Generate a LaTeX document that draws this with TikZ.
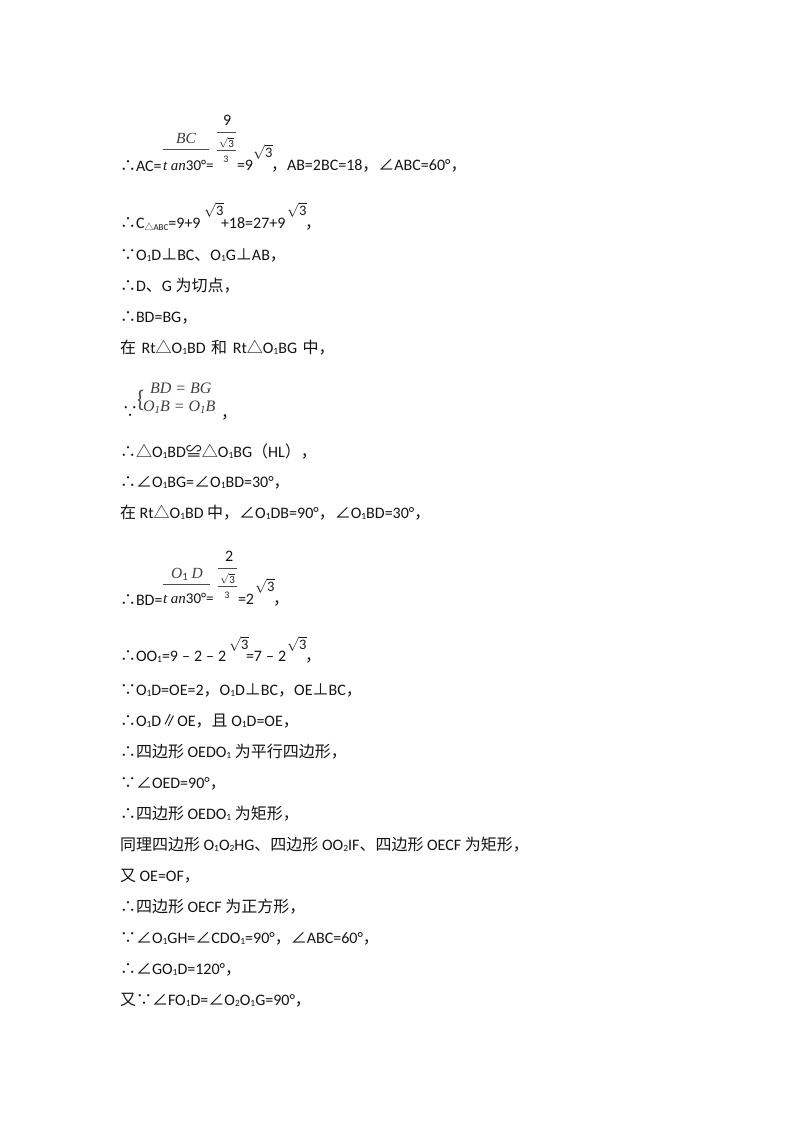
\documentclass[tikz,border=0pt]{standalone}
\usepackage{fontspec}
\setmainfont{Carlito}
\newfontfamily\cjk[Scale=1.0]{Noto Sans CJK SC}
\newfontfamily\myserif{Liberation Serif}
\newcommand{\cn}[1]{{\cjk #1}}
\newcommand{\sbs}[1]{\raisebox{-1.8pt}{\fontsize{9.5}{9.5}\selectfont #1}}
\newcommand{\mi}[1]{{\myserif\itshape #1}}
\tikzset{
  txt/.style={anchor=base west,inner sep=0pt,outer sep=0pt,font=\fontsize{16}{18}\selectfont,text=black!92},
  tanf/.style={anchor=base west,inner sep=0pt,outer sep=0pt,font=\fontsize{15}{18}\selectfont,text=black!92},
  sysf/.style={anchor=base west,inner sep=0pt,outer sep=0pt,font=\fontsize{16}{16}\selectfont\myserif\itshape,text=black!75},
  fmi/.style={anchor=base,inner sep=0pt,outer sep=0pt,font=\fontsize{15.5}{16}\selectfont,text=black!75},
  rtin/.style={anchor=base west,inner sep=0pt,font=\fontsize{11}{12}\selectfont,text=black!85},
  rtout/.style={anchor=base west,inner sep=0pt,font=\fontsize{14.5}{18}\selectfont,text=black!90},
  three/.style={anchor=base,inner sep=0pt,font=\fontsize{10}{11}\selectfont,text=black!85},
  bar/.style={line width=0.8pt,black!70}
}
\newcommand{\tl}[3]{\node[txt] (#1) at (120,#2) {#3};}
\newcommand{\sr}[3]{\node[rtout] (#1) at (#2,#3) {$\sqrt{\mbox{3}}$};}
\begin{document}
\begin{tikzpicture}[x=1pt,y=-1pt]
\useasboundingbox (0,0) rectangle (800,1132);
% line 1
\tl{a1}{171}{\cn{∴}AC=}
\node[fmi] (bc) at (186,143) {\mi{BC}};
\coordinate (bcL) at (163,149); \coordinate (bcR) at (209,149);
\draw[bar] (bcL) -- (bcR);
\node[tanf] (tan) at (163,170) {\mi{t an}30°=};
\node[txt] (nine) at (223,125) {9};
\coordinate (b1L) at (217,132); \coordinate (b1R) at (236,132);
\draw[bar] (b1L) -- (b1R);
\node[rtin] (r1) at (219,147) {$\sqrt{\mbox{3}}$};
\coordinate (b2L) at (217,150); \coordinate (b2R) at (236,150);
\draw[bar] (b2L) -- (b2R);
\node[three] (thr) at (226,162) {3};
\node[txt] (eq9) at (237,170) {=9};
\sr{r2}{253}{157}
\node[txt] (a1b) at (271,170) {\cn{，}AB=2BC=18\cn{，}\cn{∠}ABC=60°\cn{，}};
% line 2
\tl{a2}{228}{\cn{∴}C\raisebox{-2pt}{\fontsize{9}{9}\selectfont\cn{△}ABC}=9+9}
\sr{r3}{204}{215}
\node[txt] (a2b) at (221,228) {+18=27+9};
\sr{r4}{287}{215}
\node[txt] (a2c) at (305,228) {\cn{，}};
\tl{a3}{260}{\cn{∵}O\sbs{1}D\cn{⊥}BC\cn{、}O\sbs{1}G\cn{⊥}AB\cn{，}}
\tl{a4}{291}{\cn{∴}D\cn{、}G \cn{为切点，}}
\tl{a5}{322}{\cn{∴}BD=BG\cn{，}}
\tl{a6}{353}{\cn{在}\hspace{2pt} Rt\cn{△}O\sbs{1}BD\hspace{2pt} \cn{和}\hspace{2pt} Rt\cn{△}O\sbs{1}BG\hspace{2pt} \cn{中，}}
% system
\node[txt] (a7) at (122,417) {\cn{∵}};
\node[sysf] (s1) at (150,393) {BD = BG};
\node[sysf] (s2) at (143,411) {O\raisebox{-2pt}{\fontsize{11}{11}\selectfont 1}B = O\raisebox{-2pt}{\fontsize{11}{11}\selectfont 1}B};
\node[anchor=base west,inner sep=0pt,font=\fontsize{24}{24}\selectfont,text=black!70] (brace) at (137,407) {\{};
\node[txt] (a7b) at (221,418) {\cn{，}};
\tl{a8}{457}{\cn{∴△}O\sbs{1}BD\cn{≌△}O\sbs{1}BG\cn{（}HL\cn{），}}
\tl{a9}{487}{\cn{∴∠}O\sbs{1}BG=\cn{∠}O\sbs{1}BD=30°\cn{，}}
\tl{a10}{518}{\cn{在} Rt\cn{△}O\sbs{1}BD \cn{中，}\cn{∠}O\sbs{1}DB=90°\cn{，}\cn{∠}O\sbs{1}BD=30°\cn{，}}
% BD
\tl{a11}{605}{\cn{∴}BD=}
\node[fmi] (o1d) at (187,578) {\mi{O}\raisebox{-2pt}{\fontsize{11}{11}\selectfont 1}\mi{ D}};
\coordinate (cL) at (163,584); \coordinate (cR) at (210,584);
\draw[bar] (cL) -- (cR);
\node[tanf] (tan2) at (163,603) {\mi{t an}30°=};
\node[txt] (two) at (225,561) {2};
\coordinate (c1L) at (218,568); \coordinate (c1R) at (237,568);
\draw[bar] (c1L) -- (c1R);
\node[rtin] (r5) at (220,583) {$\sqrt{\mbox{3}}$};
\coordinate (c2L) at (218,586); \coordinate (c2R) at (237,586);
\draw[bar] (c2L) -- (c2R);
\node[three] (thr2) at (227,598) {3};
\node[txt] (eq2) at (238,604) {=2};
\sr{r6}{255}{591}
\node[txt] (a11b) at (273,604) {\cn{，}};
% OO1
\tl{a12}{661}{\cn{∴}OO\sbs{1}=9\hspace{4pt}–\hspace{4pt}2\hspace{4pt}–\hspace{4pt}2}
\sr{r7}{229}{649}
\node[txt] (a12b) at (246,661) {=7\hspace{4pt}–\hspace{4pt}2};
\sr{r8}{287}{649}
\node[txt] (a12c) at (305,661) {\cn{，}};
\tl{a13}{695}{\cn{∵}O\sbs{1}D=OE=2\cn{，}O\sbs{1}D\cn{⊥}BC\cn{，}OE\cn{⊥}BC\cn{，}}
\tl{a14}{726}{\cn{∴}O\sbs{1}D\cn{∥}OE\cn{，且} O\sbs{1}D=OE\cn{，}}
\tl{a15}{757}{\cn{∴四边形} OEDO\sbs{1} \cn{为平行四边形，}}
\tl{a16}{788}{\cn{∵∠}OED=90°\cn{，}}
\tl{a17}{819}{\cn{∴四边形} OEDO\sbs{1} \cn{为矩形，}}
\tl{a18}{850}{\cn{同理四边形} O\sbs{1}O\sbs{2}HG\cn{、四边形} OO\sbs{2}IF\cn{、四边形} OECF \cn{为矩形，}}
\tl{a19}{881}{\cn{又} OE=OF\cn{，}}
\tl{a20}{912}{\cn{∴四边形} OECF \cn{为正方形，}}
\tl{a21}{943}{\cn{∵∠}O\sbs{1}GH=\cn{∠}CDO\sbs{1}=90°\cn{，}\cn{∠}ABC=60°\cn{，}}
\tl{a22}{974}{\cn{∴∠}GO\sbs{1}D=120°\cn{，}}
\tl{a23}{1005}{\cn{又∵∠}FO\sbs{1}D=\cn{∠}O\sbs{2}O\sbs{1}G=90°\cn{，}}
\end{tikzpicture}
\end{document}
